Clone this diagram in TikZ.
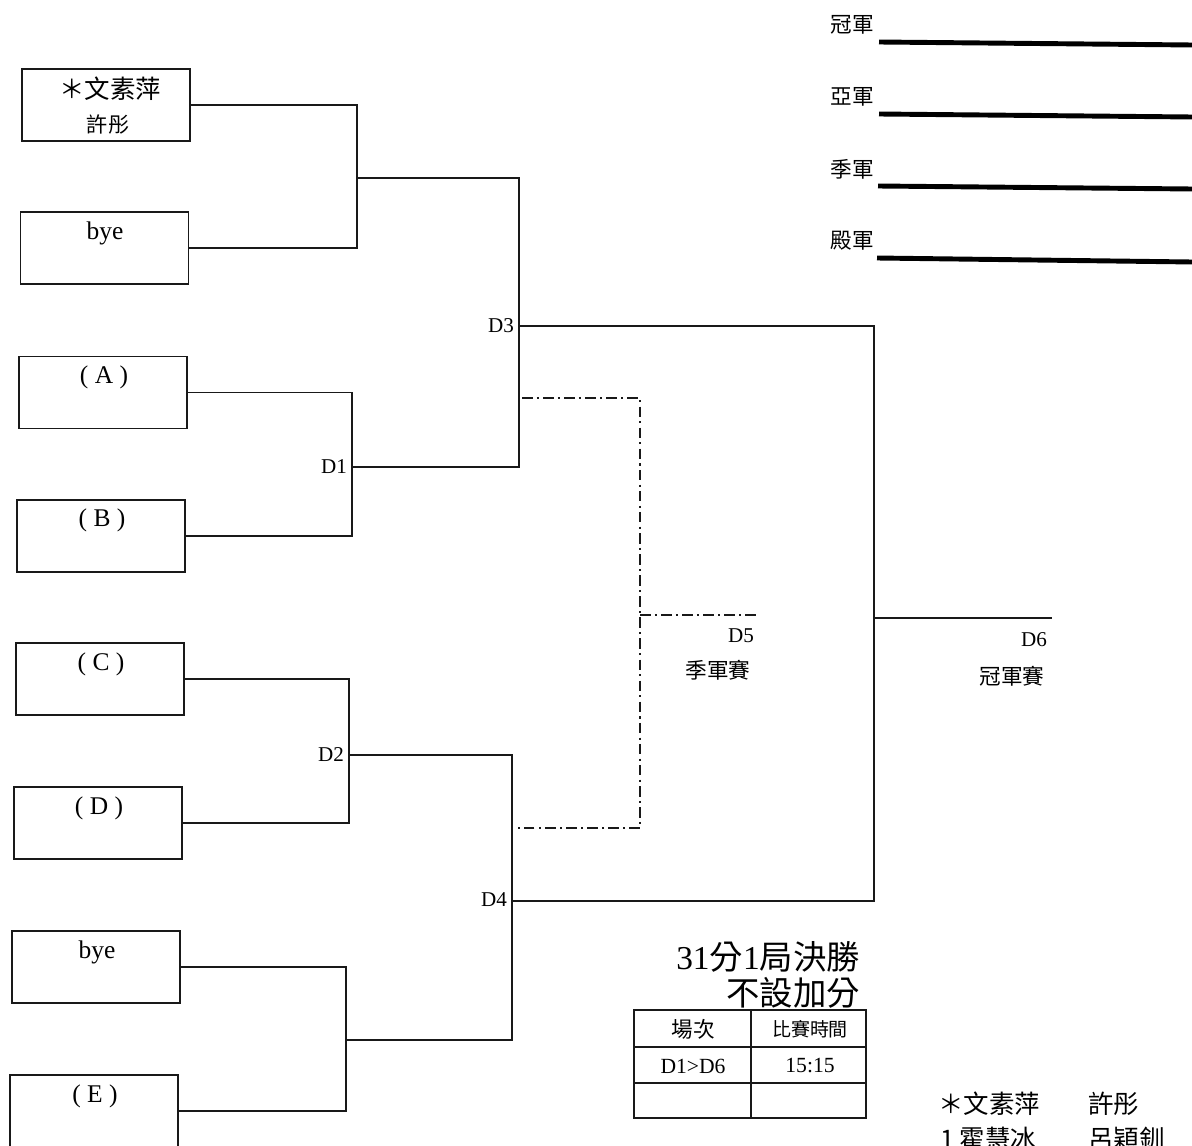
\documentclass[tikz,border=0pt]{standalone}
\usepackage{fontspec}
\setmainfont{Liberation Serif}
\newfontfamily\cjk{Noto Sans CJK TC}
\begin{document}
\begin{tikzpicture}[x=0.02cm,y=-0.02cm,
  teambox/.style={draw=black!90,line width=1.1pt,minimum width=3.36cm,minimum height=1.44cm,inner sep=0pt},
  conn/.style={draw=black!90,line width=0.85pt},
  dashdotline/.style={draw=black!90,line width=0.85pt,dash pattern=on 6pt off 2.4pt on 1.2pt off 2.4pt},
  medal/.style={draw=black,line width=2.8pt},
  big/.style={font=\fontsize{14.5}{16}\selectfont},
  mid/.style={font=\fontsize{12.3}{14}\selectfont},
  small/.style={font=\fontsize{12}{13}\selectfont},
  huge/.style={font=\fontsize{19}{20.8}\selectfont},
  lab/.style={inner sep=1pt}
]
\useasboundingbox (0,0) rectangle (1192,1145);
\fill[white] (0,0) rectangle (1192,1145);

% team boxes
\node[teambox] (b1) at (106,105) {};
\node[teambox] (b2) at (104.5,248) {};
\node[teambox] (bA) at (103,392.5) {};
\node[teambox] (bB) at (101,536) {};
\node[teambox] (bC) at (100,679) {};
\node[teambox] (bD) at (98,823) {};
\node[teambox] (b7) at (96,967) {};
\node[teambox] (bE) at (94,1111) {};

% box texts
\node[big,lab] (t1) at (110,89) {\cjk ＊文素萍};
\node[small,lab] (t1b) at (108,124) {\cjk 許彤};
\node[big,lab] (t2) at (105,233) {bye};
\node[big,lab] (tA) at (104,377) {( A )};
\node[big,lab] (tB) at (102,520) {( B )};
\node[big,lab] (tC) at (101,664) {( C )};
\node[big,lab] (tD) at (99,808) {( D )};
\node[big,lab] (t7) at (97,952) {bye};
\node[big,lab] (tE) at (95,1096) {( E )};

% junction coordinates
\coordinate (j1) at (357,178);
\coordinate (d1) at (352,467);
\coordinate (d2) at (349,755);
\coordinate (j2) at (346,1040);
\coordinate (d3) at (519,326);
\coordinate (d4) at (512,901);
\coordinate (d6) at (874,618);
\coordinate (d6end) at (1052,618);

% brackets
\draw[conn] (b1.east) -| (j1) |- (b2.east);
\draw[conn] (bA.east) -| (d1) |- (bB.east);
\draw[conn] (bC.east) -| (d2) |- (bD.east);
\draw[conn] (b7.east) -| (j2) |- (bE.east);
\draw[conn] (j1) -| (d3) |- (d1);
\draw[conn] (d2) -| (d4) |- (j2);
\draw[conn] (d3) -| (d6) |- (d4);
\draw[conn] (d6) -- (d6end);

% D5 dash-dot bracket
\coordinate (q1) at (522,398);
\coordinate (q2) at (640,398);
\coordinate (q3) at (640,828);
\coordinate (q4) at (515,828);
\coordinate (d5) at (640,615);
\coordinate (d5end) at (760,615);
\draw[dashdotline] (q1) -- (q2) -- (q3) -- (q4);
\draw[dashdotline] (d5) -- (d5end);

% match labels
\node[small,lab,anchor=east] (L1) at (349,467) {D1};
\node[small,lab,anchor=east] (L2) at (346,755) {D2};
\node[small,lab,anchor=east] (L3) at (516,326) {D3};
\node[small,lab,anchor=east] (L4) at (509,900) {D4};
\node[small,lab,anchor=east] (L5) at (756,636) {D5};
\node[mid,lab] (L5b) at (718,670) {\cjk 季軍賽};
\node[small,lab,anchor=east] (L6) at (1049,640) {D6};
\node[mid,lab] (L6b) at (1012,676) {\cjk 冠軍賽};

% medal lines
\node[mid,lab,anchor=east] (m1) at (876,25) {\cjk 冠軍};
\node[mid,lab,anchor=east] (m2) at (876,97) {\cjk 亞軍};
\node[mid,lab,anchor=east] (m3) at (876,169) {\cjk 季軍};
\node[mid,lab,anchor=east] (m4) at (876,241) {\cjk 殿軍};
\coordinate (m1a) at (879,42); \coordinate (m1b) at (1192,45);
\coordinate (m2a) at (879,114); \coordinate (m2b) at (1192,117);
\coordinate (m3a) at (878,186); \coordinate (m3b) at (1192,189);
\coordinate (m4a) at (877,258); \coordinate (m4b) at (1192,262);
\draw[medal] (m1a) -- (m1b);
\draw[medal] (m2a) -- (m2b);
\draw[medal] (m3a) -- (m3b);
\draw[medal] (m4a) -- (m4b);

% rules text
\node[huge,lab,anchor=east,align=right] (r1) at (862,975) {31{\cjk 分}1{\cjk 局決勝}\\{\cjk 不設加分}};

% table
\coordinate (tl) at (634,1010);
\coordinate (br) at (866,1118);
\draw[conn,line width=1.1pt] (tl) rectangle (br);
\draw[conn] (751,1010) -- (751,1118);
\draw[conn] (634,1047) -- (866,1047);
\draw[conn] (634,1083) -- (866,1083);
\node[mid,lab] (c11) at (693,1029) {\cjk 場次};
\node[font=\fontsize{10.8}{12}\selectfont,lab] (c12) at (810,1029) {\cjk 比賽時間};
\node[mid,lab] (c21) at (693,1066) {D1>D6};
\node[mid,lab] (c22) at (810,1066) {15:15};

% players list
\node[big,lab,anchor=west] (p1) at (936,1104) {\cjk ＊文素萍};
\node[big,lab,anchor=west] (p2) at (1086,1104) {\cjk 許彤};
\node[big,lab,anchor=west] (p3) at (938,1139) {\cjk 1 霍慧冰};
\node[big,lab,anchor=west] (p4) at (1086,1139) {\cjk 呂穎釧};
\end{tikzpicture}
\end{document}
